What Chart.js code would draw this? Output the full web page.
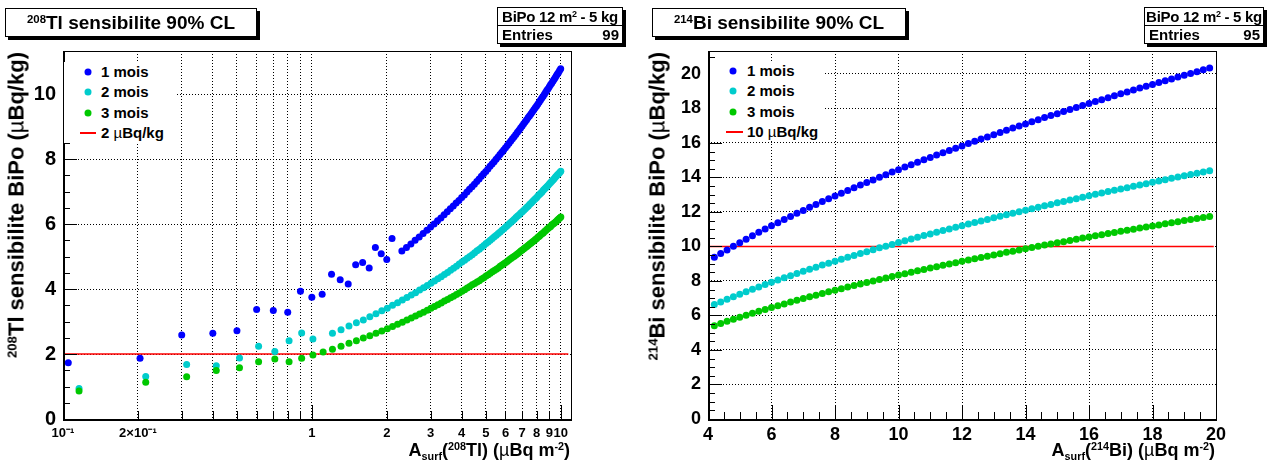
<!DOCTYPE html>
<html><head><meta charset="utf-8">
<title>Sensibilite BiPo</title>
<script src="https://cdn.jsdelivr.net/npm/chart.js@4.4.1/dist/chart.umd.min.js"></script>
<style>
html,body{margin:0;padding:0;background:#fff;}
body{width:1276px;height:465px;position:relative;overflow:hidden;font-family:"Liberation Sans",Arial,Helvetica,sans-serif;font-weight:bold;color:#000;}
canvas{position:absolute;top:0;}
.box{position:absolute;box-sizing:border-box;border:1px solid #000;background:#fff;box-shadow:3px 3px 0 #000;}
.title{font-size:19px;text-align:center;line-height:27px;white-space:nowrap;}
.sup{font-size:0.6em;position:relative;top:-0.55em;}
.sub{font-size:0.6em;position:relative;top:0.4em;}
.stats{font-size:15px;}
.stats .r1{position:absolute;left:0;right:0;top:0;height:17px;line-height:18px;border-bottom:1px solid #000;text-align:center;white-space:nowrap;letter-spacing:-0.3px;}
.stats .r2{position:absolute;left:4px;right:3px;top:18px;height:17px;line-height:17px;white-space:nowrap;}
.stats .r2 .v{position:absolute;right:0;top:0;}
.leg{position:absolute;background:#fff;}
.item{position:absolute;font-size:15px;line-height:18px;white-space:nowrap;transform:translateY(-50%);}
.dot{position:absolute;width:7px;height:7px;border-radius:50%;transform:translate(-50%,-50%);}
.rline{position:absolute;height:2px;background:#ff0000;transform:translateY(-50%);}
.mu{font-weight:normal;}
.ytitle{position:absolute;font-size:22px;line-height:24px;white-space:nowrap;text-align:right;transform:translate(-50%,-50%) rotate(-90deg);}
.xtitle{position:absolute;font-size:18px;line-height:22px;white-space:nowrap;text-align:right;}
</style></head>
<body>
<canvas id="cTl" width="638" height="465" style="left:0"></canvas>
<canvas id="cBi" width="638" height="465" style="left:638px"></canvas>

<div class="box title" style="left:5px;top:8px;width:252px;height:29px;"><span class="sup">208</span>Tl sensibilite 90% CL</div>
<div class="box stats" style="left:497px;top:7px;width:126px;height:37px;"><div class="r1">BiPo 12 m<span class="sup">2</span> - 5 kg</div><div class="r2">Entries<span class="v" id="nTl"></span></div></div>

<div class="box title" style="left:652px;top:8px;width:254px;height:29px;"><span class="sup">214</span>Bi sensibilite 90% CL</div>
<div class="box stats" style="left:1144px;top:7px;width:120px;height:37px;"><div class="r1">BiPo 12 m<span class="sup">2</span> - 5 kg</div><div class="r2">Entries<span class="v" id="nBi"></span></div></div>

<div class="leg" style="left:64px;top:62px;width:113px;height:81px;"></div>
<div class="dot" style="left:88px;top:72px;background:#0000ff"></div><div class="item" style="left:101px;top:72px;">1 mois</div>
<div class="dot" style="left:88px;top:92px;background:#00cccc"></div><div class="item" style="left:101px;top:92px;">2 mois</div>
<div class="dot" style="left:88px;top:113px;background:#00c800"></div><div class="item" style="left:101px;top:113px;">3 mois</div>
<div class="rline" style="left:80px;top:133px;width:16px;"></div><div class="item" style="left:101px;top:133px;">2 <span class="mu">µ</span>Bq/kg</div>

<div class="leg" style="left:710px;top:62px;width:113px;height:79px;"></div>
<div class="dot" style="left:733px;top:71px;background:#0000ff"></div><div class="item" style="left:747px;top:71px;">1 mois</div>
<div class="dot" style="left:733px;top:91px;background:#00cccc"></div><div class="item" style="left:747px;top:91px;">2 mois</div>
<div class="dot" style="left:733px;top:112px;background:#00c800"></div><div class="item" style="left:747px;top:112px;">3 mois</div>
<div class="rline" style="left:726px;top:132px;width:17px;"></div><div class="item" style="left:747px;top:132px;">10 <span class="mu">µ</span>Bq/kg</div>

<div class="ytitle" style="left:18px;top:224px;width:344px;"><span class="sup">208</span>Tl sensibilite BiPo (<span class="mu">µ</span>Bq/kg)</div>
<div class="ytitle" style="left:659px;top:224px;width:344px;"><span class="sup">214</span>Bi sensibilite BiPo (<span class="mu">µ</span>Bq/kg)</div>
<div class="xtitle" style="right:706px;top:439px;">A<span class="sub">surf</span>(<span class="sup">208</span>Tl) (<span class="mu">µ</span>Bq m<span class="sup">-2</span>)</div>
<div class="xtitle" style="right:61px;top:439px;">A<span class="sub">surf</span>(<span class="sup">214</span>Bi) (<span class="mu">µ</span>Bq m<span class="sup">-2</span>)</div>

<script>
// ---------------- 208Tl data (A_surf in uBq/m2, sensitivity in uBq/kg) ----------------
const tl1moisA = [0.105,0.204,0.3,0.4,0.5,0.6,0.7,0.8,0.9,1.0,1.1,1.2,1.3,1.4,1.5,1.6,1.7,1.8,1.9,2.0,2.1,
  2.3,2.4,2.5,2.6,2.7,2.8,2.9,3.0,3.1,3.2,3.3,3.4,3.5,3.6,3.7,3.8,3.9,4.0,4.1,4.2,4.3,4.4,4.5,4.6,4.7,4.8,4.9,5.0,
  5.1,5.2,5.3,5.4,5.5,5.6,5.7,5.8,5.9,6.0,6.1,6.2,6.3,6.4,6.5,6.6,6.7,6.8,6.9,7.0,7.1,7.2,7.3,7.4,7.5,7.6,7.7,7.8,7.9,8.0,
  8.1,8.2,8.3,8.4,8.5,8.6,8.7,8.8,8.9,9.0,9.1,9.2,9.3,9.4,9.5,9.6,9.7,9.8,9.9,10.0];
const tl1mois = [1.73,1.87,2.59,2.64,2.72,3.37,3.34,3.29,3.93,3.75,3.84,4.46,4.29,4.16,4.75,4.82,4.65,5.28,5.09,4.91,5.56,
  5.17,5.28,5.39,5.50,5.60,5.71,5.81,5.91,6.00,6.10,6.19,6.29,6.38,6.47,6.56,6.65,6.73,6.82,6.90,6.99,7.07,7.15,7.23,7.31,7.39,7.47,7.55,7.62,
  7.70,7.78,7.85,7.92,8.00,8.07,8.14,8.21,8.28,8.35,8.42,8.49,8.56,8.63,8.69,8.76,8.83,8.89,8.96,9.02,9.09,9.15,9.21,9.28,9.34,9.40,9.46,9.52,9.58,9.64,
  9.70,9.76,9.82,9.88,9.94,10.00,10.06,10.12,10.17,10.23,10.29,10.34,10.40,10.45,10.51,10.57,10.62,10.67,10.73,10.78];
const tl2moisA = [0.116,0.215,0.314,0.413,0.512,0.611,0.71,0.81,0.91,1.01,
  1.21,1.31,1.41,1.51,1.61,1.71,1.81,1.91,2.01,2.11,2.21,2.31,2.41,2.51,2.61,2.71,2.81,2.91,3.01,3.11,3.21,3.31,3.41,3.51,3.61,3.71,3.81,3.91,4.01,
  4.11,4.21,4.31,4.41,4.51,4.61,4.71,4.81,4.91,5.01,5.11,5.21,5.31,5.41,5.51,5.61,5.71,5.81,5.91,6.01,6.11,6.21,6.31,6.41,6.51,6.61,6.71,6.81,6.91,7.01,
  7.11,7.21,7.31,7.41,7.51,7.61,7.71,7.81,7.91,8.01,8.11,8.21,8.31,8.41,8.51,8.61,8.71,8.81,8.91,9.01,9.11,9.21,9.31,9.41,9.51,9.61,9.71,9.81,9.91,10.01];
const tl2mois = [0.94,1.31,1.68,1.64,1.88,2.24,2.08,2.41,2.65,2.46,
  2.64,2.75,2.86,2.96,3.05,3.15,3.24,3.33,3.41,3.50,3.58,3.66,3.74,3.82,3.89,3.97,4.04,4.11,4.18,4.25,4.32,4.38,4.45,4.51,4.58,4.64,4.70,4.77,4.83,
  4.89,4.95,5.00,5.06,5.12,5.18,5.23,5.29,5.34,5.40,5.45,5.50,5.56,5.61,5.66,5.71,5.76,5.81,5.86,5.91,5.96,6.01,6.06,6.10,6.15,6.20,6.25,6.29,6.34,6.38,
  6.43,6.47,6.52,6.56,6.61,6.65,6.70,6.74,6.78,6.82,6.87,6.91,6.95,6.99,7.04,7.08,7.12,7.16,7.20,7.24,7.28,7.32,7.36,7.40,7.44,7.48,7.52,7.55,7.59,7.63];
const tl3moisA = [0.116,0.215,0.314,0.413,0.512,0.611,0.71,
  0.81,0.91,1.01,1.11,1.21,1.31,1.41,1.51,1.61,1.71,1.81,1.91,2.01,2.11,2.21,2.31,2.41,2.51,2.61,2.71,2.81,2.91,3.01,3.11,3.21,3.31,3.41,3.51,3.61,3.71,3.81,3.91,4.01,
  4.11,4.21,4.31,4.41,4.51,4.61,4.71,4.81,4.91,5.01,5.11,5.21,5.31,5.41,5.51,5.61,5.71,5.81,5.91,6.01,6.11,6.21,6.31,6.41,6.51,6.61,6.71,6.81,6.91,7.01,
  7.11,7.21,7.31,7.41,7.51,7.61,7.71,7.81,7.91,8.01,8.11,8.21,8.31,8.41,8.51,8.61,8.71,8.81,8.91,9.01,9.11,9.21,9.31,9.41,9.51,9.61,9.71,9.81,9.91,10.01];
const tl3mois = [0.86,1.13,1.30,1.49,1.58,1.76,1.85,
  1.76,1.87,1.97,2.06,2.15,2.24,2.33,2.41,2.49,2.56,2.64,2.71,2.78,2.85,2.92,2.98,3.05,3.11,3.17,3.23,3.29,3.35,3.41,3.46,3.52,3.57,3.63,3.68,3.73,3.78,3.83,3.88,3.93,
  3.98,4.03,4.08,4.13,4.17,4.22,4.26,4.31,4.35,4.40,4.44,4.49,4.53,4.57,4.61,4.65,4.70,4.74,4.78,4.82,4.86,4.90,4.94,4.98,5.01,5.05,5.09,5.13,5.17,5.20,
  5.24,5.28,5.31,5.35,5.39,5.42,5.46,5.49,5.53,5.56,5.60,5.63,5.67,5.70,5.73,5.77,5.80,5.84,5.87,5.90,5.93,5.97,6.00,6.03,6.06,6.09,6.13,6.16,6.19,6.22];
const tlLimitA = [0.1, 10.73];
const tlLimit = [2, 2];
const tlEntries = 99;
const tlXTicks = [0.1,0.2,0.3,0.4,0.5,0.6,0.7,0.8,0.9,1,2,3,4,5,6,7,8,9,10];
const tlXLabels = {0.1:'10\u207B\u00B9', 0.2:'2\u00D710\u207B\u00B9', 1:'1',2:'2',3:'3',4:'4',5:'5',6:'6',7:'7',8:'8',9:'9',10:'10'};
const tlYTicks = [0,2,4,6,8,10];

// ---------------- 214Bi data ----------------
const biA = [4.2,4.4,4.6,4.8,5.0,5.2,5.4,5.6,5.8,6.0,6.2,6.4,6.6,6.8,7.0,7.2,7.4,7.6,7.8,8.0,8.2,8.4,8.6,8.8,9.0,9.2,9.4,9.6,9.8,10.0,
  10.2,10.4,10.6,10.8,11.0,11.2,11.4,11.6,11.8,12.0,12.2,12.4,12.6,12.8,13.0,13.2,13.4,13.6,13.8,14.0,14.2,14.4,14.6,14.8,15.0,15.2,15.4,15.6,15.8,16.0,
  16.2,16.4,16.6,16.8,17.0,17.2,17.4,17.6,17.8,18.0,18.2,18.4,18.6,18.8,19.0,19.2,19.4,19.6,19.8];
const bi1mois = [9.37,9.59,9.80,10.01,10.22,10.42,10.62,10.82,11.01,11.20,11.38,11.56,11.74,11.92,12.09,12.27,12.43,12.60,12.77,12.93,
  13.09,13.25,13.41,13.56,13.71,13.86,14.01,14.16,14.31,14.45,14.60,14.74,14.88,15.02,15.16,15.30,15.43,15.57,15.70,15.83,
  15.97,16.10,16.23,16.35,16.48,16.61,16.73,16.86,16.98,17.10,17.23,17.35,17.47,17.59,17.70,17.82,17.94,18.05,18.17,18.28,
  18.40,18.51,18.62,18.74,18.85,18.96,19.07,19.18,19.29,19.39,19.50,19.61,19.71,19.82,19.92,20.03,20.13,20.24,20.34];
const bi2mois = [6.63,6.78,6.94,7.09,7.23,7.37,7.52,7.65,7.79,7.92,8.05,8.18,8.31,8.43,8.56,8.68,8.80,8.92,9.03,9.15,
  9.26,9.37,9.48,9.59,9.70,9.81,9.92,10.02,10.12,10.23,10.33,10.43,10.53,10.63,10.73,10.82,10.92,11.01,11.11,11.20,
  11.30,11.39,11.48,11.57,11.66,11.75,11.84,11.93,12.01,12.10,12.19,12.27,12.36,12.44,12.53,12.61,12.69,12.77,12.85,12.94,
  13.02,13.10,13.18,13.26,13.33,13.41,13.49,13.57,13.64,13.72,13.80,13.87,13.95,14.02,14.10,14.17,14.24,14.32,14.39];
const bi3mois = [5.41,5.53,5.66,5.78,5.90,6.02,6.13,6.24,6.35,6.46,6.57,6.67,6.78,6.88,6.98,7.08,7.18,7.27,7.37,7.46,
  7.55,7.65,7.74,7.83,7.91,8.00,8.09,8.17,8.26,8.34,8.42,8.51,8.59,8.67,8.75,8.83,8.91,8.98,9.06,9.14,
  9.21,9.29,9.36,9.44,9.51,9.58,9.66,9.73,9.80,9.87,9.94,10.01,10.08,10.15,10.22,10.28,10.35,10.42,10.49,10.55,
  10.62,10.68,10.75,10.81,10.88,10.94,11.00,11.07,11.13,11.19,11.25,11.32,11.38,11.44,11.50,11.56,11.62,11.68,11.74];
const biLimitA = [4, 19.93];
const biLimit = [10, 10];
const biEntries = 95;
const biXTicks = [4,6,8,10,12,14,16,18,20];
const biYTicks = [0,2,4,6,8,10,12,14,16,18,20];

// ---------------- styling ----------------
const FONT = '"Liberation Sans", Arial, Helvetica, sans-serif';
const COL1 = '#0000ff', COL2 = '#00cccc', COL3 = '#00c800', COLR = '#ff0000';
document.getElementById('nTl').textContent = tlEntries;
document.getElementById('nBi').textContent = biEntries;

function pairs(xs, ys){
  const n = Math.min(xs.length, ys.length), out = [];
  for (let i = 0; i < n; i++) if (ys[i] != null) out.push({x: xs[i], y: ys[i]});
  return out;
}
function pointSet(label, xs, ys, col, order){
  return {label, data: pairs(xs, ys), backgroundColor: col, borderColor: col, borderWidth: 0,
          pointRadius: 3.5, pointHoverRadius: 3.5, showLine: false, order};
}
function lineSet(label, xs, ys){
  return {label, data: pairs(xs, ys), borderColor: COLR, backgroundColor: COLR, borderWidth: 1.6,
          pointRadius: 0, showLine: true, order: 5};
}

// ROOT-like frame with inward tick marks, drawn through the chart's scales
const rootFrame = {
  id: 'rootFrame',
  afterDraw(chart, args, o){
    const {ctx, chartArea: a, scales: {x, y}} = chart;
    ctx.save();
    ctx.strokeStyle = '#000';
    ctx.lineWidth = 1;
    ctx.beginPath();
    const L = Math.round(a.left), B = Math.round(a.bottom);
    o.xTicks.forEach(t => {
      const p = Math.round(x.getPixelForValue(t.v)) + 0.5;
      ctx.moveTo(p, B); ctx.lineTo(p, B - t.len);
    });
    o.yTicks.forEach(t => {
      const p = Math.round(y.getPixelForValue(t.v)) + 0.5;
      ctx.moveTo(L, p); ctx.lineTo(L + t.len, p);
    });
    ctx.stroke();
    ctx.strokeRect(L + 0.5, Math.round(a.top) + 0.5, Math.round(a.right) - L, B - Math.round(a.top));
    ctx.lineWidth = 2;
    ctx.beginPath();
    ctx.moveTo(L + 1, Math.round(a.top)); ctx.lineTo(L + 1, B + 1); ctx.lineTo(Math.round(a.right) + 1, B + 1);
    ctx.stroke();
    ctx.restore();
  }
};

function linTicks(lo, hi, step, majorStep, majLen, minLen){
  const out = [];
  for (let k = 0; lo + k * step <= hi + 1e-9; k++){
    const v = +(lo + k * step).toFixed(4);
    const m = Math.abs(v / majorStep - Math.round(v / majorStep)) < 1e-6;
    out.push({v, len: m ? majLen : minLen});
  }
  return out;
}

const tlFrameX = tlXTicks.map(v => ({v, len: (v === 0.1 || v === 1 || v === 10) ? 14 : 8}));
const tlFrameY = linTicks(0, 11.3, 0.5, 2, 14, 7);
const biFrameX = linTicks(4, 20, 0.5, 2, 14, 7);
const biFrameY = linTicks(0, 21.3, 0.5, 2, 14, 7);

Chart.defaults.font.family = FONT;
Chart.defaults.color = '#000';

function axisCommon(){
  return {
    grid: {color: '#000', lineWidth: 1, drawTicks: false},
    border: {display: false, dash: [1, 2]}
  };
}

new Chart(document.getElementById('cTl'), {
  type: 'scatter',
  data: {datasets: [
    pointSet('1 mois', tl1moisA, tl1mois, COL1, 3),
    pointSet('2 mois', tl2moisA, tl2mois, COL2, 2),
    pointSet('3 mois', tl3moisA, tl3mois, COL3, 1),
    lineSet('2 \u00B5Bq/kg', tlLimitA, tlLimit)
  ]},
  options: {
    responsive: false, animation: false, devicePixelRatio: 1,
    layout: {padding: {left: 0, top: 51, right: 67, bottom: 0}},
    plugins: {legend: {display: false}, tooltip: {enabled: false}, title: {display: false},
              rootFrame: {xTicks: tlFrameX, yTicks: tlFrameY}},
    events: [],
    scales: {
      x: Object.assign(axisCommon(), {
        type: 'logarithmic', min: 0.1, max: 11,
        afterFit(s){ s.height = 46; },
        afterBuildTicks(s){ s.ticks = tlXTicks.map(v => ({value: v})); },
        ticks: {autoSkip: false, maxRotation: 0, padding: 7, color: '#000',
                font: {family: FONT, size: 13, weight: 'bold'},
                callback: v => tlXLabels[v] || ''}
      }),
      y: Object.assign(axisCommon(), {
        type: 'linear', min: 0, max: 11.33,
        afterFit(s){ s.width = 63; },
        afterBuildTicks(s){ s.ticks = tlYTicks.map(v => ({value: v})); },
        ticks: {padding: 7, color: '#000', font: {family: FONT, size: 20, weight: 'bold'},
                callback: v => String(v)}
      })
    }
  },
  plugins: [rootFrame]
});

new Chart(document.getElementById('cBi'), {
  type: 'scatter',
  data: {datasets: [
    pointSet('1 mois', biA, bi1mois, COL1, 3),
    pointSet('2 mois', biA, bi2mois, COL2, 2),
    pointSet('3 mois', biA, bi3mois, COL3, 1),
    lineSet('10 \u00B5Bq/kg', biLimitA, biLimit)
  ]},
  options: {
    responsive: false, animation: false, devicePixelRatio: 1,
    layout: {padding: {left: 0, top: 51, right: 60, bottom: 0}},
    plugins: {legend: {display: false}, tooltip: {enabled: false}, title: {display: false},
              rootFrame: {xTicks: biFrameX, yTicks: biFrameY}},
    events: [],
    scales: {
      x: Object.assign(axisCommon(), {
        type: 'linear', min: 4, max: 20,
        afterFit(s){ s.height = 46; },
        afterBuildTicks(s){ s.ticks = biXTicks.map(v => ({value: v})); },
        ticks: {autoSkip: false, maxRotation: 0, padding: 5, color: '#000',
                font: {family: FONT, size: 18, weight: 'bold'},
                callback: v => String(v)}
      }),
      y: Object.assign(axisCommon(), {
        type: 'linear', min: 0, max: 21.33,
        afterFit(s){ s.width = 70; },
        afterBuildTicks(s){ s.ticks = biYTicks.map(v => ({value: v})); },
        ticks: {padding: 7, color: '#000', font: {family: FONT, size: 18, weight: 'bold'},
                callback: v => String(v)}
      })
    }
  },
  plugins: [rootFrame]
});
</script>
</body></html>
